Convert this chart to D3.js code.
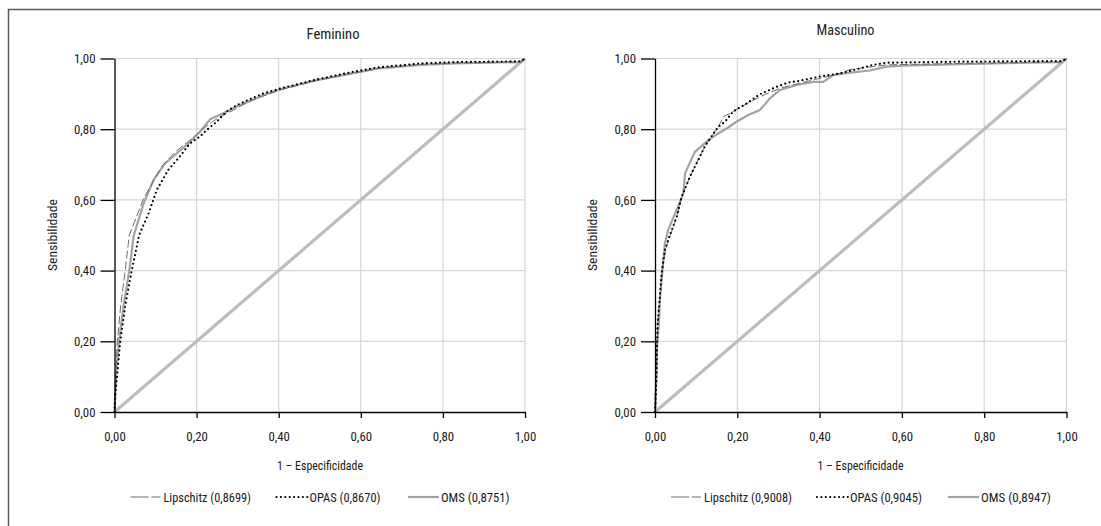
<!DOCTYPE html>
<html>
<head>
<meta charset="utf-8">
<script src="https://cdn.jsdelivr.net/npm/d3@7"></script>
<style>
body { margin: 0; background: #fff; }
text { font-family: "Liberation Sans Narrow", "Roboto Condensed", Roboto, sans-serif; font-stretch: condensed; fill: #1a1a1a; }
</style>
</head>
<body>
<div id="chart"></div>
<script>
// tick values shared by both axes
var ticks = [0, 0.2, 0.4, 0.6, 0.8, 1];
var diagonal = [[0, 0], [1, 1]];

// Feminino: [1 - especificidade, sensibilidade]
var femLipschitz = [[0,0],[0.003,0.11],[0.007,0.2],[0.015,0.3],[0.026,0.4],[0.036,0.5],[0.071,0.604],[0.115,0.694],[0.148,0.736],[0.184,0.769],[0.208,0.793],[0.233,0.817],[0.257,0.835],[0.29,0.854],[0.326,0.878],[0.36,0.893],[0.404,0.911],[0.49,0.937],[0.575,0.957],[0.643,0.972],[0.746,0.983],[0.831,0.987],[0.99,0.99],[1,1]];
var femOpas = [[0,0],[0.002,0.05],[0.007,0.11],[0.014,0.2],[0.026,0.3],[0.042,0.4],[0.06,0.5],[0.083,0.562],[0.103,0.628],[0.131,0.685],[0.156,0.718],[0.184,0.76],[0.208,0.779],[0.225,0.798],[0.249,0.821],[0.273,0.85],[0.298,0.868],[0.326,0.883],[0.36,0.9],[0.404,0.915],[0.49,0.94],[0.575,0.961],[0.643,0.975],[0.746,0.986],[0.831,0.99],[0.99,0.992],[1,1]];
var femOms = [[0,0],[0.004,0.11],[0.011,0.2],[0.022,0.3],[0.036,0.4],[0.047,0.5],[0.071,0.59],[0.095,0.656],[0.123,0.703],[0.152,0.732],[0.18,0.76],[0.208,0.793],[0.233,0.828],[0.265,0.845],[0.298,0.864],[0.326,0.878],[0.36,0.895],[0.404,0.913],[0.49,0.938],[0.575,0.957],[0.643,0.972],[0.746,0.982],[0.831,0.986],[0.99,0.99],[1,1]];

// Masculino
var mascLipschitz = [[0,0],[0.002,0.1],[0.005,0.2],[0.008,0.28],[0.013,0.33],[0.018,0.4],[0.026,0.46],[0.036,0.496],[0.053,0.553],[0.065,0.609],[0.085,0.666],[0.105,0.713],[0.121,0.751],[0.134,0.774],[0.154,0.807],[0.166,0.835],[0.19,0.85],[0.223,0.872],[0.255,0.892],[0.304,0.916],[0.352,0.93],[0.401,0.944],[0.45,0.958],[0.474,0.969],[0.53,0.977],[0.563,0.982],[0.741,0.986],[0.99,0.99],[1,1]];
var mascOpas = [[0,0],[0.002,0.05],[0.004,0.128],[0.006,0.241],[0.011,0.317],[0.016,0.392],[0.024,0.458],[0.036,0.5],[0.053,0.553],[0.065,0.609],[0.085,0.666],[0.105,0.713],[0.121,0.751],[0.134,0.774],[0.154,0.807],[0.17,0.821],[0.19,0.85],[0.223,0.873],[0.255,0.899],[0.296,0.92],[0.324,0.932],[0.352,0.937],[0.401,0.949],[0.45,0.958],[0.498,0.972],[0.53,0.982],[0.563,0.988],[0.741,0.991],[0.99,0.993],[1,1]];
var mascOms = [[0,0],[0.004,0.11],[0.005,0.185],[0.01,0.26],[0.012,0.317],[0.018,0.4],[0.024,0.477],[0.032,0.515],[0.049,0.562],[0.069,0.619],[0.073,0.675],[0.097,0.736],[0.13,0.769],[0.154,0.788],[0.174,0.802],[0.198,0.821],[0.227,0.84],[0.255,0.854],[0.279,0.887],[0.304,0.911],[0.344,0.925],[0.385,0.934],[0.409,0.934],[0.433,0.953],[0.474,0.96],[0.522,0.966],[0.563,0.977],[0.603,0.98],[0.741,0.984],[0.9,0.988],[0.99,0.99],[1,1]];

var femLegend = ["Lipschitz (0,8699)", "OPAS (0,8670)", "OMS (0,8751)"];
var mascLegend = ["Lipschitz (0,9008)", "OPAS (0,9045)", "OMS (0,8947)"];

var width = 1101, height = 526;

var svg = d3.select("#chart")
    .append("svg")
    .attr("width", width)
    .attr("height", height);

// outer frame (only left and top edges visible)
svg.append("path")
    .attr("d", "M8.5,526V9.5H1101")
    .attr("fill", "none")
    .attr("stroke", "#5a5a5a")
    .attr("stroke-width", 1.5);

var fmt = function(d) { return d3.format(".2f")(d).replace(".", ","); };

// stretch/squeeze a label to the width it takes in the original
function fit(sel, w) {
    sel.attr("textLength", w).attr("lengthAdjust", "spacingAndGlyphs");
}

// line styles for the three criteria
var styles = [
    { stroke: "#6e6e6e", width: 1, dash: "8,3", cap: "butt", legendDash: "18,3,9" },
    { stroke: "#000", width: 2.2, dash: "0,4.4", cap: "round", legendDash: "0,4.4" },
    { stroke: "#a3a3a3", width: 2.2, dash: null, cap: "butt", legendDash: null }
];

function drawPanel(p) {
    var x = d3.scaleLinear().domain([0, 1]).range([p.x0, p.x1]);
    var y = d3.scaleLinear().domain([0, 1]).range([412, 58.5]);
    var g = svg.append("g");

    // grid
    g.selectAll(".vgrid").data(ticks.slice(1)).enter().append("line")
        .attr("x1", function(d){ return x(d); }).attr("x2", function(d){ return x(d); })
        .attr("y1", y(0)).attr("y2", y(1))
        .attr("stroke", "#d6d6d6").attr("stroke-width", 1.2);
    g.selectAll(".hgrid").data(ticks.slice(1)).enter().append("line")
        .attr("x1", x(0)).attr("x2", x(1))
        .attr("y1", function(d){ return y(d); }).attr("y2", function(d){ return y(d); })
        .attr("stroke", "#d6d6d6").attr("stroke-width", 1.2);

    var line = d3.line()
        .x(function(d){ return x(d[0]); })
        .y(function(d){ return y(d[1]); });

    g.append("path").datum(diagonal)
        .attr("d", line)
        .attr("fill", "none")
        .attr("stroke", "#bdbdbd")
        .attr("stroke-width", 3.2);

    // draw OMS first, then Lipschitz, then OPAS on top
    var order = [2, 0, 1];
    order.forEach(function(i) {
        var s = styles[i];
        g.append("path").datum(p.series[i])
            .attr("d", line)
            .attr("fill", "none")
            .attr("stroke", s.stroke)
            .attr("stroke-width", s.width)
            .attr("stroke-linecap", s.cap)
            .attr("stroke-linejoin", "round")
            .attr("stroke-dasharray", s.dash);
    });

    // axes
    g.append("g")
        .attr("transform", "translate(" + x(0) + ",0)")
        .call(d3.axisLeft(y).tickValues(ticks).tickSize(14).tickSizeOuter(0).tickPadding(5).tickFormat(fmt));
    g.append("g")
        .attr("transform", "translate(0," + y(0) + ")")
        .call(d3.axisBottom(x).tickValues(ticks).tickSize(6).tickSizeOuter(0).tickPadding(13).tickFormat(fmt));
    g.selectAll(".domain").attr("stroke", "#000").attr("stroke-width", 1.3);
    g.selectAll(".tick line").attr("stroke", "#000").attr("stroke-width", 1.3);
    g.selectAll(".tick text")
        .style("font-size", "13.5px")
        .attr("fill", "#1a1a1a")
        .call(fit, 21.5);
    g.selectAll("g").attr("font-family", null).attr("font-size", null);

    // titles
    g.append("text")
        .attr("x", p.titleX).attr("y", p.titleY)
        .attr("text-anchor", "middle")
        .style("font-size", "14px")
        .text(p.title)
        .call(fit, p.titleW);
    g.append("text")
        .attr("transform", "translate(" + p.ylabX + ",235) rotate(-90)")
        .attr("text-anchor", "middle")
        .style("font-size", "13px")
        .text("Sensibilidade")
        .call(fit, 72);
    g.append("text")
        .attr("x", p.xlabX).attr("y", 470)
        .attr("text-anchor", "middle")
        .style("font-size", "13.5px")
        .text("1 \u2013 Especificidade")
        .call(fit, 86);

    // legend
    p.legend.forEach(function(label, i) {
        var s = styles[i];
        var lx = p.legendX[i];
        g.append("line")
            .attr("x1", lx).attr("x2", lx + 31)
            .attr("y1", 497).attr("y2", 497)
            .attr("stroke", s.stroke)
            .attr("stroke-width", s.width)
            .attr("stroke-linecap", s.cap)
            .attr("stroke-dasharray", s.legendDash);
        g.append("text")
            .attr("x", lx + 33).attr("y", 502)
            .style("font-size", "13.5px")
            .text(label)
            .call(fit, p.legendW[i]);
    });
}

drawPanel({
    x0: 114.5, x1: 525, title: "Feminino", titleX: 333, titleY: 39, titleW: 53,
    ylabX: 57, xlabX: 320,
    series: [femLipschitz, femOpas, femOms],
    legend: femLegend, legendX: [130.5, 276.5, 408], legendW: [87.5, 71, 68.5]
});
drawPanel({
    x0: 655, x1: 1066.5, title: "Masculino", titleX: 845.5, titleY: 35, titleW: 58,
    ylabX: 597, xlabX: 860.5,
    series: [mascLipschitz, mascOpas, mascOms],
    legend: mascLegend, legendX: [671, 817, 948], legendW: [88, 72, 70]
});
</script>
</body>
</html>
